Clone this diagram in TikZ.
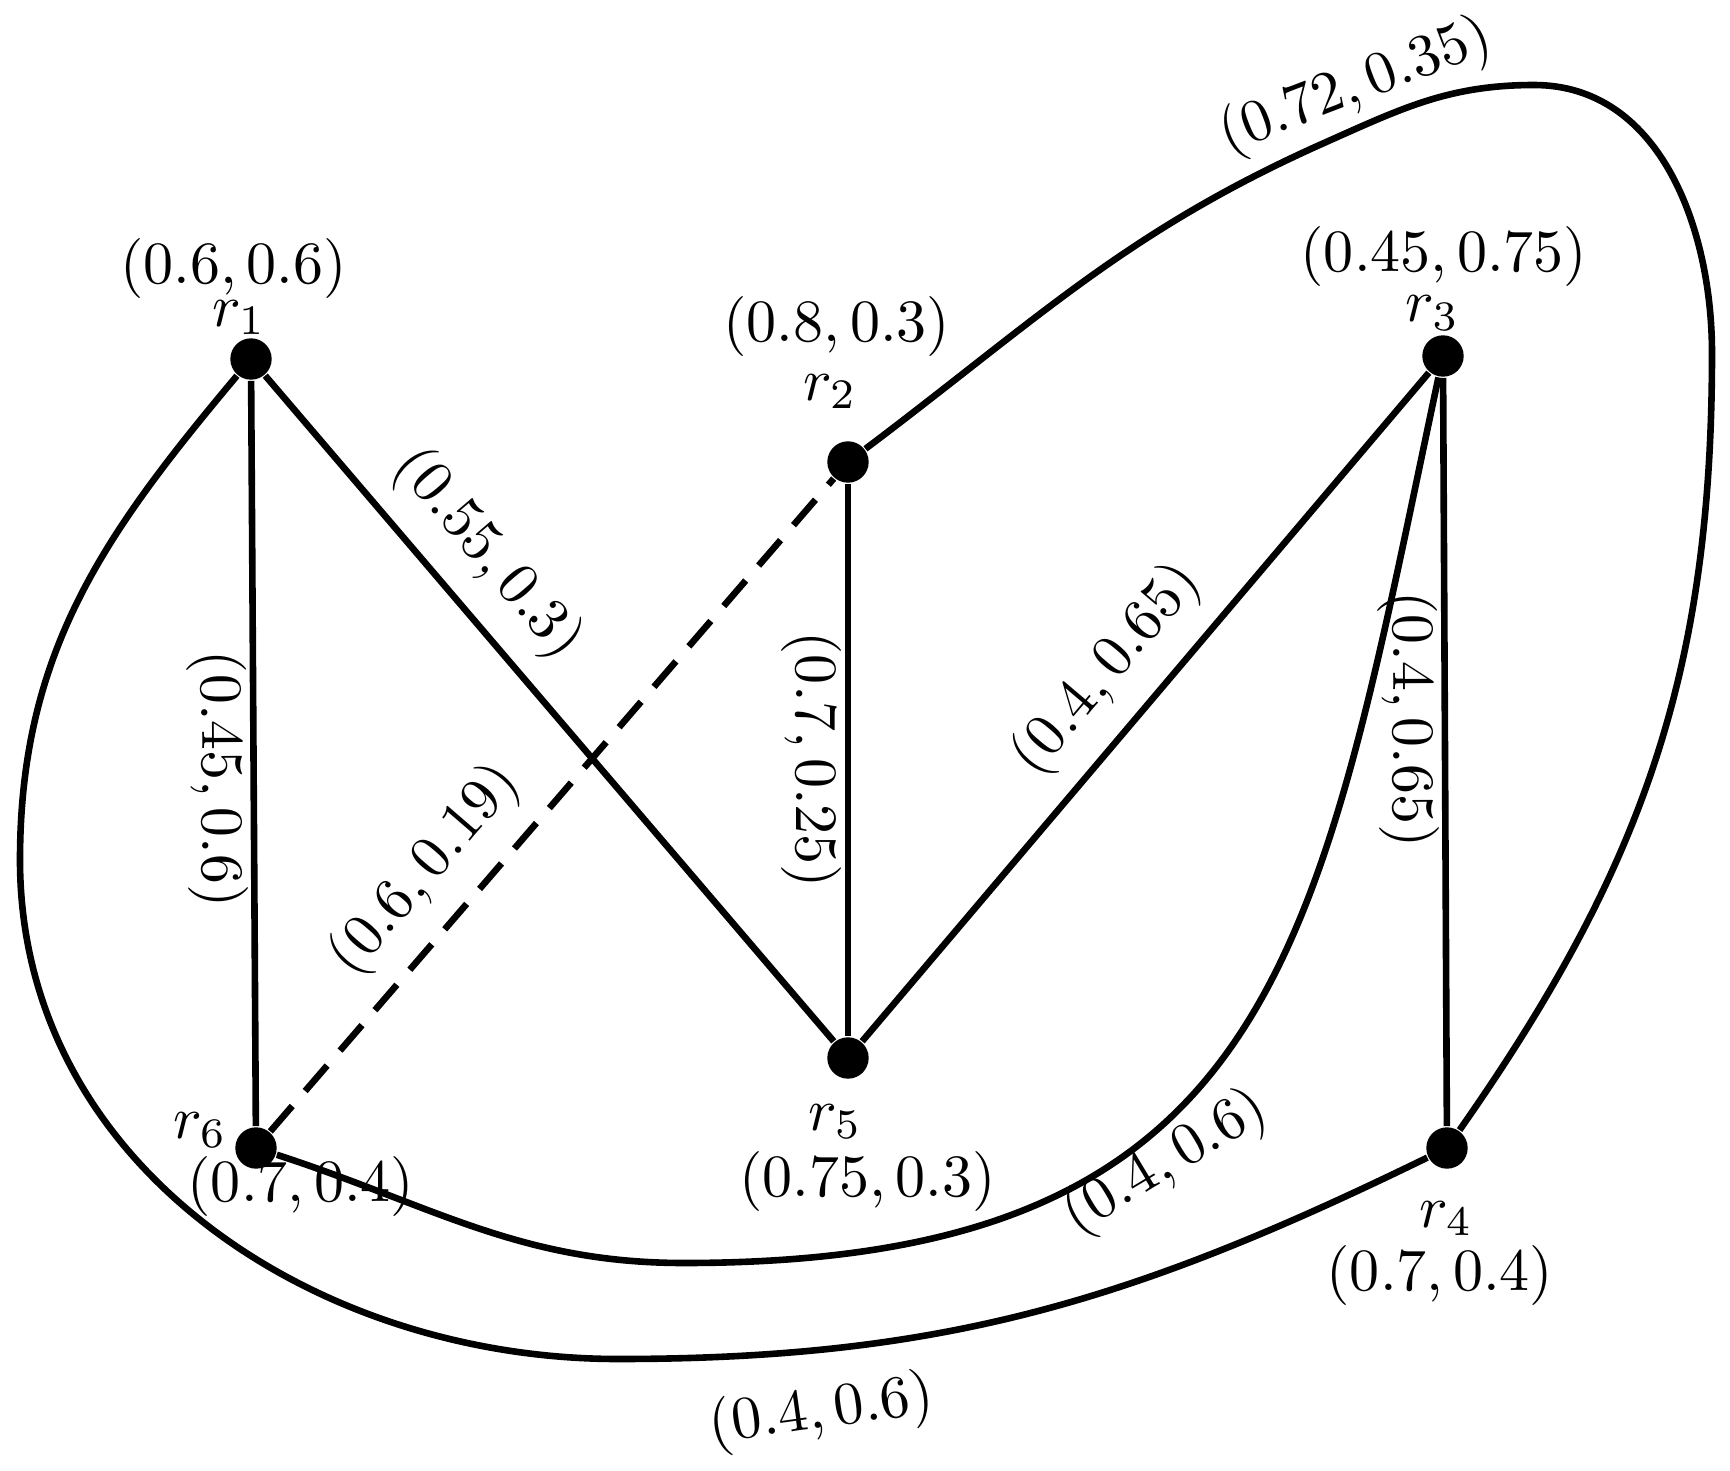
\documentclass[tikz,border=0pt]{standalone}
\begin{document}
\begin{tikzpicture}[x=0.1667pt,y=0.1667pt,
  vert/.style={circle,fill=black,inner sep=0pt,minimum size=6.9pt},
  edge/.style={line width=1.1pt},
  dashedge/.style={line width=1.1pt,dash pattern=on 5.6pt off 3.3pt},
  lab/.style={inner sep=0pt,anchor=base},
  onleft/.style={sloped,below,inner sep=0.5pt}]
\useasboundingbox (0,0) rectangle (1730,1470);
% vertices
\node[vert] (r1) at (251,1111) {};
\node[vert] (r2) at (848,1008) {};
\node[vert] (r3) at (1443,1114) {};
\node[vert] (r4) at (1447,322) {};
\node[vert] (r5) at (848,412) {};
\node[vert] (r6) at (256,322) {};
% vertex labels
\node[lab] (r1n) at (239,1144) {$r_1$};
\node[lab] (r1c) at (233.5,1187) {$(0.6,0.6)$};
\node[lab] (r2n) at (830,1070) {$r_2$};
\node[lab] (r2c) at (836.7,1129) {$(0.8,0.3)$};
\node[lab] (r3n) at (1432.5,1148) {$r_3$};
\node[lab] (r3c) at (1444,1199) {$(0.45,0.75)$};
\node[lab] (r6n) at (200,332) {$r_6$};
\node[lab] (r6c) at (301,269) {$(0.7,0.4)$};
\node[lab] (r5n) at (835,340) {$r_5$};
\node[lab] (r5c) at (867.5,274) {$(0.75,0.3)$};
\node[lab] (r4n) at (1446,243) {$r_4$};
\node[lab] (r4c) at (1440,180) {$(0.7,0.4)$};
% straight edges
\draw[edge] (r1) -- node[pos=0.534,onleft] (e16) {$(0.45,0.6)$} (r6);
\draw[edge] (r1) -- node[pos=0.32,sloped,above] (e15) {$(0.55,0.3)$} (r5);
\draw[dashedge] (r6) -- node[pos=0.347,sloped,above] (e62) {$(0.6,0.19)$} (r2);
\draw[edge] (r2) -- node[midway,onleft] (e25) {$(0.7,0.25)$} (r5);
\draw[edge] (r5) -- node[pos=0.504,sloped,above] (e53) {$(0.4,0.65)$} (r3);
\draw[edge] (r3) -- node[pos=0.456,onleft] (e34) {$(0.4,0.65)$} (r4);
% curved edges
\coordinate (aS) at (1324,1327);
\coordinate (aT) at (1534,1385);
\coordinate (aR) at (1712,1117);
\draw[edge] (r2) to[out=37,in=204] (aS) to[out=24,in=180] (aT) to[out=0,in=90] (aR) to[out=-90,in=55] (r4);
\coordinate (bM) at (684,207);
\draw[edge] (r3) .. controls (1318,527) and (1284,207) .. (bM) to[out=180,in=-18] (r6);
\coordinate (cL) at (20,610);
\coordinate (cB) at (618,111);
\draw[edge] (r1) to[out=-130,in=90] (cL) to[out=-90,in=180] (cB) to[out=0,in=206] (r4);
% curve labels
\node[rotate=21] (w24) at (1356,1383) {$(0.72,0.35)$};
\node[rotate=31] (w36) at (1166,307) {$(0.4,0.6)$};
\node[rotate=8] (w14) at (821.5,57.5) {$(0.4,0.6)$};
\end{tikzpicture}
\end{document}
